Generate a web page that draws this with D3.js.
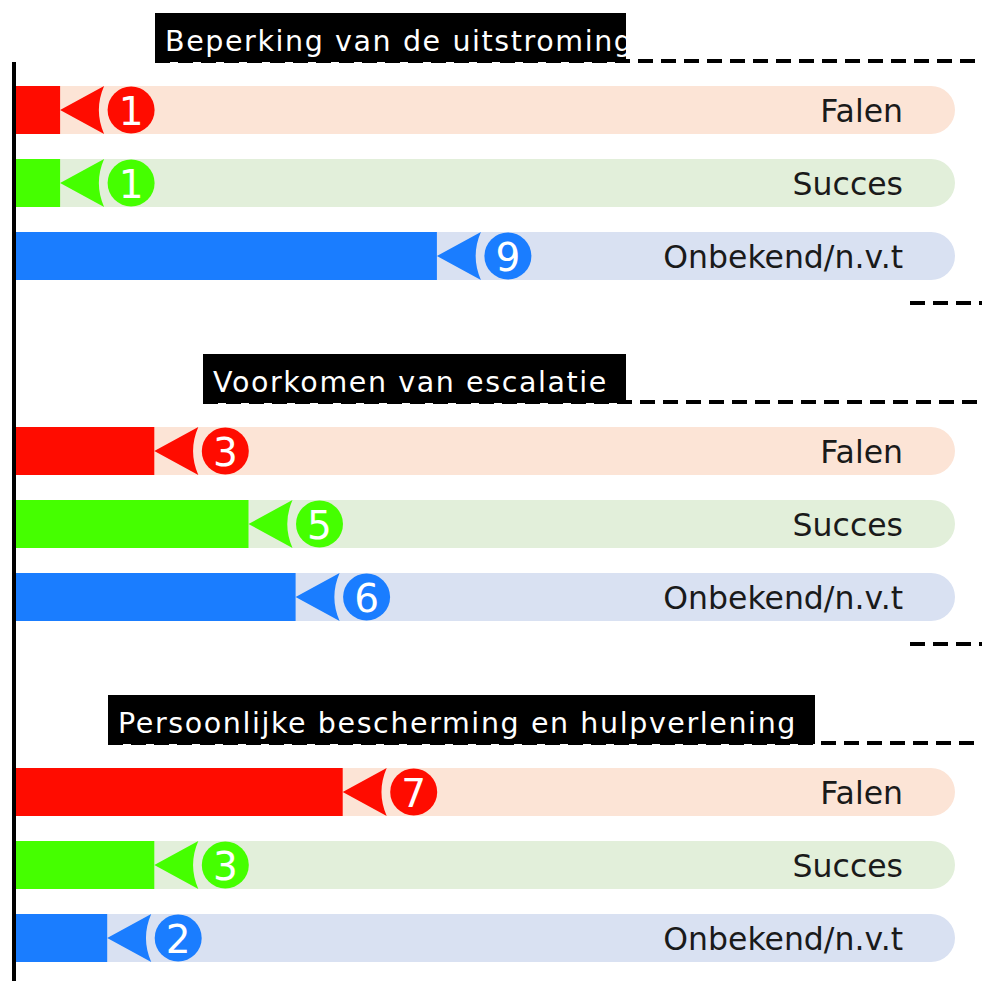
<!DOCTYPE html>
<html>
<head>
<meta charset="utf-8">
<script src="https://cdn.jsdelivr.net/npm/d3@7"></script>
<style>
  html, body { margin: 0; padding: 0; background: #fff; }
  svg { display: block; }
</style>
</head>
<body>
<svg id="chart" width="982" height="981"></svg>
<script>
// Sections and outcomes
const groups = ["Beperking van de uitstroming", "Voorkomen van escalatie", "Persoonlijke bescherming en hulpverlening"];
const outcomes = ["Falen", "Succes", "Onbekend/n.v.t"];

// Counts per section, one array per outcome
const falen = [1, 3, 7];
const succes = [1, 5, 3];
const onbekend = [9, 6, 2];

// Title box placement per section
const titleBoxX = [155, 203, 108];
const titleBoxW = [471, 423, 707];

const barColors = { "Falen": "#ff0c00", "Succes": "#45ff00", "Onbekend/n.v.t": "#1a7dff" };
const trackColors = { "Falen": "#fce4d6", "Succes": "#e2efda", "Onbekend/n.v.t": "#d9e1f2" };

const seriesByOutcome = { "Falen": falen, "Succes": succes, "Onbekend/n.v.t": onbekend };

const svg = d3.select("#chart");
const font = "'DejaVu Sans', Verdana, sans-serif";

const x = d3.scaleLinear().domain([0, 20]).range([13, 955]);
const groupOffset = d3.scaleLinear().domain([0, 2]).range([0, 682]);
const row = d3.scaleBand().domain(outcomes).range([86, 280]).paddingInner(25 / 73).paddingOuter(0);
const bh = row.bandwidth();

groups.forEach((g, gi) => {
  const oy = groupOffset(gi);
  const gEl = svg.append("g").attr("transform", `translate(0,${oy})`);

  // dashed rule under the section title
  gEl.append("line")
    .attr("x1", titleBoxX[gi]).attr("x2", 982)
    .attr("y1", 61).attr("y2", 61)
    .attr("stroke", "#000").attr("stroke-width", 4)
    .attr("stroke-dasharray", "15,8");

  // title box
  gEl.append("rect")
    .attr("x", titleBoxX[gi]).attr("y", 13)
    .attr("width", titleBoxW[gi]).attr("height", 49)
    .attr("fill", "#000");
  gEl.append("text")
    .attr("x", titleBoxX[gi] + 10).attr("y", 51)
    .attr("fill", "#fff")
    .attr("font-family", font).attr("font-size", 28.5)
    .attr("letter-spacing", 1.6)
    .text(g);

  // rows
  outcomes.forEach(o => {
    const v = seriesByOutcome[o][gi];
    const y0 = row(o);
    const cy = y0 + bh / 2;

    gEl.append("rect")
      .attr("x", x(0)).attr("y", y0)
      .attr("width", x(20) - x(0)).attr("height", bh)
      .attr("rx", bh / 2).attr("ry", bh / 2)
      .attr("fill", trackColors[o]);

    gEl.append("rect")
      .attr("x", x(0)).attr("y", y0)
      .attr("width", x(v) - x(0)).attr("height", bh)
      .attr("fill", barColors[o]);

    // pointer at the bar end
    const tip = x(v);
    gEl.append("path")
      .attr("transform", `translate(${tip},${cy})`)
      .attr("d", "M0,0 L44,-24 A60,60 0 0,0 44,24 Z")
      .attr("fill", barColors[o]);

    // value badge
    gEl.append("circle")
      .attr("cx", tip + 71).attr("cy", cy).attr("r", 23.5)
      .attr("fill", barColors[o]);
    gEl.append("text")
      .attr("x", tip + 71).attr("y", cy + 14.5)
      .attr("text-anchor", "middle")
      .attr("fill", "#fff")
      .attr("font-family", font).attr("font-size", 39)
      .text(v);

    // outcome label
    gEl.append("text")
      .attr("x", 903).attr("y", cy + 12)
      .attr("text-anchor", "end")
      .attr("fill", "#1a1a1a")
      .attr("font-family", font).attr("font-size", 31.5)
      .text(o);
  });

  // short dashed separator after the section
  if (gi < groups.length - 1) {
    gEl.append("line")
      .attr("x1", 910).attr("x2", 982)
      .attr("y1", 303).attr("y2", 303)
      .attr("stroke", "#000").attr("stroke-width", 4)
      .attr("stroke-dasharray", "15,8");
  }
});

// vertical axis line
svg.append("line")
  .attr("x1", 14).attr("x2", 14)
  .attr("y1", 62).attr("y2", 981)
  .attr("stroke", "#000").attr("stroke-width", 4);
</script>
</body>
</html>
